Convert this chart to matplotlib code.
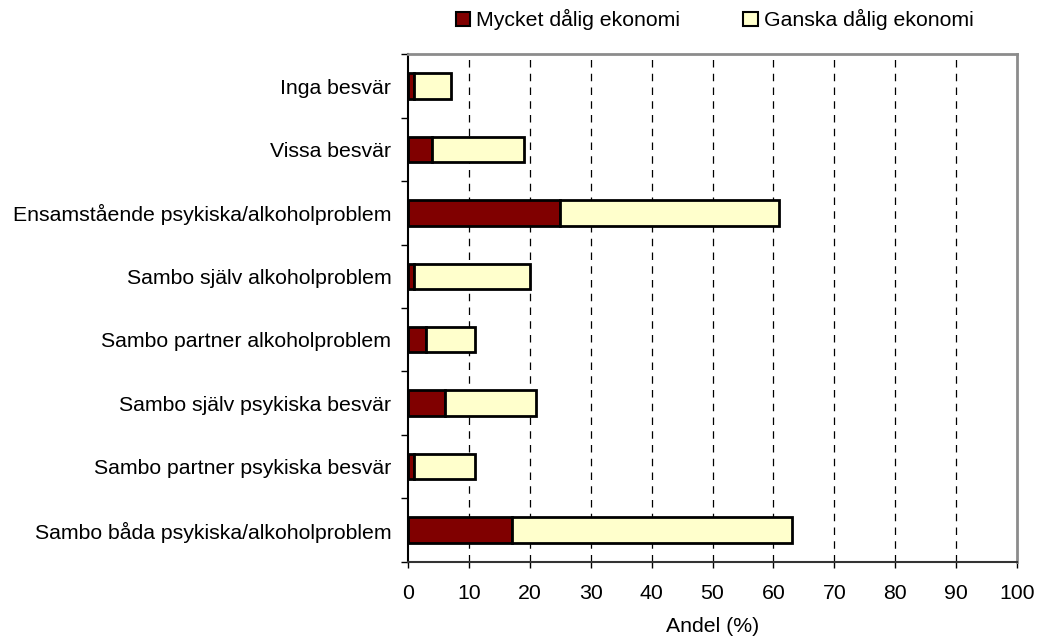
import numpy as np
import matplotlib
matplotlib.use("Agg")
from matplotlib import pyplot as plt
from matplotlib.patches import Patch

plt.rcParams['font.family'] = ['Liberation Sans', 'DejaVu Sans']

# data, top to bottom as in the picture
categories = ['Inga besvär', 'Vissa besvär',
              'Ensamstående psykiska/alkoholproblem',
              'Sambo själv alkoholproblem', 'Sambo partner alkoholproblem',
              'Sambo själv psykiska besvär', 'Sambo partner psykiska besvär',
              'Sambo båda psykiska/alkoholproblem']
mycket = [1, 4, 25, 1, 3, 6, 1, 17]
ganska = [6, 15, 36, 19, 8, 15, 10, 46]
series_names = ['Mycket dålig ekonomi', 'Ganska dålig ekonomi']
xticks = list(range(0, 101, 10))

dark = '#800000'
light = '#ffffcc'
fs = 15.3

fig = plt.figure(figsize=(10.4, 6.44), dpi=100)
ax = fig.add_axes([0.3923, 0.1278, 0.5856, 0.7878])

y = np.arange(len(categories))
ax.barh(y, mycket, height=0.4, color=dark, edgecolor='black', linewidth=2, zorder=3)
ax.barh(y, ganska, left=mycket, height=0.4, color=light, edgecolor='black', linewidth=2, zorder=3)

ax.set_ylim(len(categories) - 0.5, -0.5)
ax.set_xlim(0, 100)
ax.set_yticks(y)
ax.set_yticklabels(categories, fontsize=fs)
ax.tick_params(axis='y', length=0, pad=12)
ax.set_yticks(np.arange(-0.5, len(categories)), minor=True)
ax.tick_params(axis='y', which='minor', length=5, width=1, color='black')
ax.set_xticks(xticks)
ax.tick_params(axis='x', labelsize=fs, length=4, width=1, pad=12)

for xv in xticks[1:-1]:
    ax.axvline(xv, color='black', linestyle=(0, (6, 5)), linewidth=0.9, zorder=1)

ax.spines['left'].set_color('black')
ax.spines['left'].set_linewidth(1.5)
ax.spines['bottom'].set_color('#333333')
ax.spines['bottom'].set_linewidth(1.5)
ax.spines['top'].set_color('#8c8c8c')
ax.spines['top'].set_linewidth(2)
ax.spines['right'].set_color('#8c8c8c')
ax.spines['right'].set_linewidth(2)

ax.set_xlabel('Andel (%)', fontsize=fs, labelpad=10)

handles = [Patch(facecolor=dark, edgecolor='black', linewidth=1.5),
           Patch(facecolor=light, edgecolor='black', linewidth=1.5)]
fig.legend(handles, series_names, loc='center', bbox_to_anchor=(0.687, 0.969),
           ncol=2, frameon=False, fontsize=fs, handlelength=0.7,
           handleheight=0.7, handletextpad=0.25, columnspacing=3.0)

fig.savefig('out.png', dpi=100)
